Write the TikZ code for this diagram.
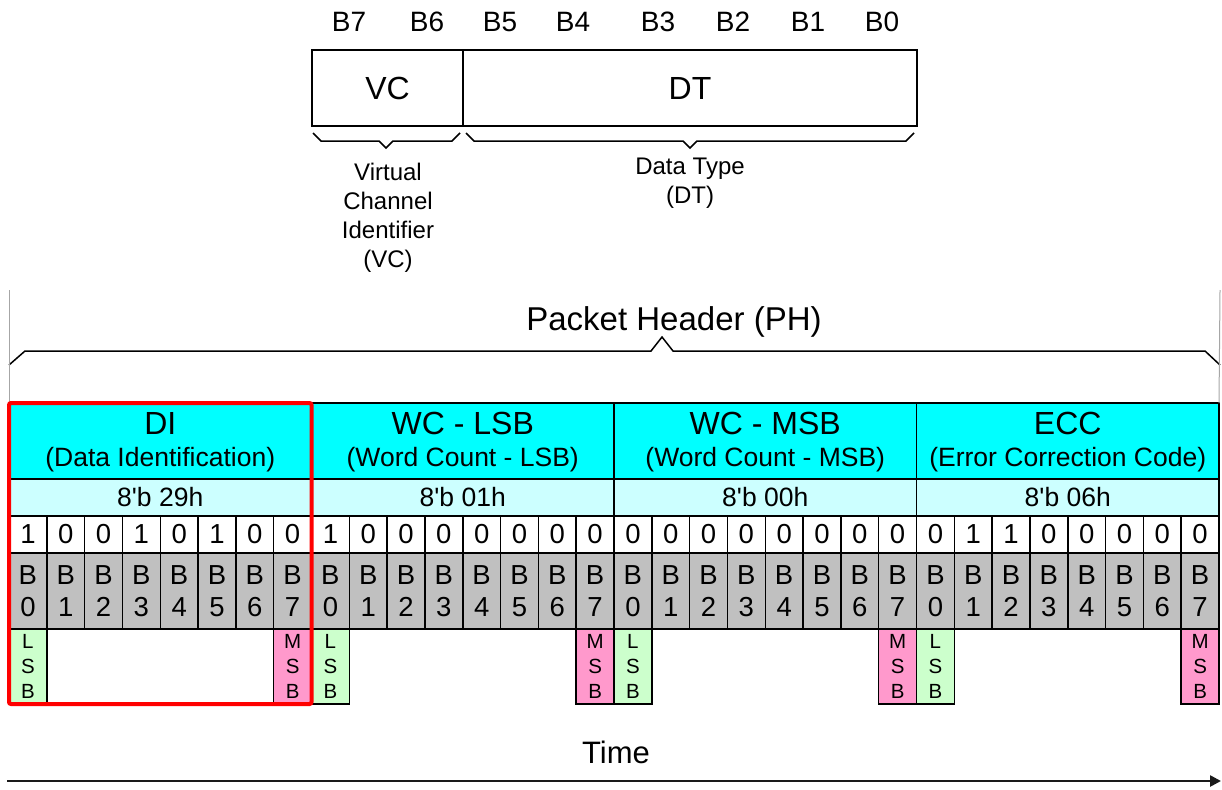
\documentclass[tikz,border=0pt]{standalone}
\usepackage{fontspec}
\setmainfont{Liberation Sans}
\usetikzlibrary{arrows.meta,calc}
\definecolor{hdrcyan}{HTML}{00FFFF}
\definecolor{hexcyan}{HTML}{CCFFFF}
\definecolor{bitgray}{HTML}{C0C0C0}
\definecolor{lsbgreen}{HTML}{CCFFCC}
\definecolor{msbpink}{HTML}{FF99CC}
\definecolor{guidegray}{HTML}{A6A6A6}
\definecolor{arrowdark}{HTML}{1A1A1A}
\newcommand\fsz[2]{\fontsize{#1}{#2}\selectfont}
\begin{document}
\begin{tikzpicture}[x=1pt,y=-1pt,
  box/.style={draw, line width=1.5pt, inner sep=0pt, outer sep=0pt, anchor=north west},
  bracepath/.style={draw, line width=1.5pt, line join=miter},
  toplabel/.style={font=\fsz{28}{32}},
  celltext/.style={font=\fsz{27.5}{32}, align=center},
  sidetext/.style={font=\fsz{20.5}{25}, align=center},
  notetext/.style={font=\fsz{24}{29}, align=center}]
\useasboundingbox (0,0) rectangle (1222,789);

% ---------- top byte layout ----------
\foreach \lbl/\xx in {B7/349, B6/427, B5/500, B4/573, B3/658, B2/733, B1/808, B0/882}
  \node[toplabel] (top\lbl) at (\xx,22) {\lbl};
\node[box, minimum width=151, minimum height=76, font=\fsz{32}{36}] (vc) at (312,50) {VC};
\node[box, minimum width=454, minimum height=76, font=\fsz{32}{36}] (dt) at (463,50) {DT};

\path[bracepath] (313,133) -- (321,141) -- (379,141) -- (386,148) -- (393,141) -- (452,141) -- (460,133);
\path[bracepath] (466,133) -- (474,141) -- (683,141) -- (690,148) -- (697,141) -- (906,141) -- (914,133);

\node[notetext] (vcnote) at (388,218) {Virtual\\Channel\\Identifier\\(VC)};
\node[notetext] (dtnote) at (690,183) {Data Type\\(DT)};

% ---------- packet header ----------
\node[font=\fsz{33}{40}] (ph) at (674,322) {Packet Header (PH)};
\path[bracepath] (9,365) -- (25,351) -- (651,351) -- (662,337) -- (673,351) -- (1205,351) -- (1220,365);

\foreach \i/\ttl/\sub/\hex/\bits in {
   0/DI/{(Data Identification)}/{29h}/{1,0,0,1,0,1,0,0},
   1/{WC - LSB}/{(Word Count - LSB)}/{01h}/{1,0,0,0,0,0,0,0},
   2/{WC - MSB}/{(Word Count - MSB)}/{00h}/{0,0,0,0,0,0,0,0},
   3/ECC/{(Error Correction Code)}/{06h}/{0,1,1,0,0,0,0,0}}{
  \pgfmathsetmacro\bx{9+302.5*\i}
  \node[box, fill=hdrcyan, minimum width=302.5, minimum height=76] (t\i) at (\bx,403) {};
  \node[font=\fsz{32}{36}] (tt\i) at ($(t\i.north)+(0,20)$) {\ttl};
  \node[font=\fsz{26.5}{30}] (ts\i) at ($(t\i.north)+(0,57)$) {\sub};
  \node[box, fill=hexcyan, minimum width=302.5, minimum height=37, font=\fsz{26.5}{30}] (h\i) at (\bx,479) {8\textquotesingle b \hex};
  \foreach \v [count=\j from 0] in \bits {
    \node[box, fill=white, minimum width=37.8125, minimum height=37, celltext] (v\i-\j) at ({\bx+\j*37.8125},516) {\v};
    \node[box, fill=bitgray, minimum width=37.8125, minimum height=76, celltext] (b\i-\j) at ({\bx+\j*37.8125},553) {B\\\j};
  }
  \node[box, fill=lsbgreen, minimum width=37.8125, minimum height=75, sidetext] (l\i) at (\bx,629) {L\\S\\B};
  \node[box, fill=msbpink, minimum width=37.8125, minimum height=75, sidetext] (m\i) at ({\bx+7*37.8125},629) {M\\S\\B};
}

\draw[guidegray, line width=1pt] (9,290) -- (t0.north west);
\draw[guidegray, line width=1pt] (1220,290) -- (t3.north east);

% highlight of DI byte
\draw[red, line width=4pt, rounded corners=2pt] (t0.north west) rectangle (m0.south east);

% ---------- time axis ----------
\node[font=\fsz{31}{36}] (time) at (616,752) {Time};
\coordinate (timeS) at (7,781);
\coordinate (timeE) at (1221,781);
\draw[arrowdark, line width=2.5pt, -{Triangle[length=11pt,width=11pt]}] (timeS) -- (timeE);
\end{tikzpicture}
\end{document}
